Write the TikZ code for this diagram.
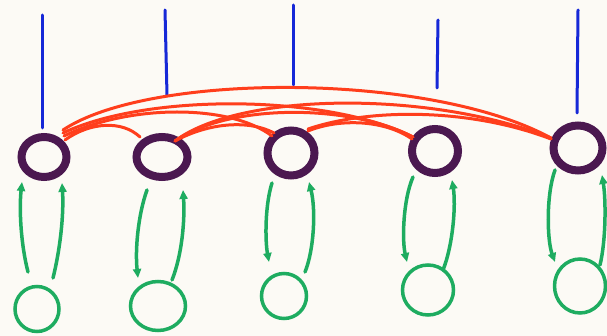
\documentclass[tikz,border=0pt]{standalone}
\usetikzlibrary{calc,arrows.meta,shapes.geometric}
\definecolor{paper}{RGB}{252,250,245}
\definecolor{ink}{RGB}{75,24,80}
\definecolor{leaf}{RGB}{30,172,96}
\definecolor{flame}{RGB}{255,62,28}
\definecolor{sky}{RGB}{22,40,215}
\begin{document}
\begin{tikzpicture}[x=1pt,y=-1pt,
  hub/.style={ellipse,draw=ink,line width=8pt,inner sep=0pt},
  leafring/.style={ellipse,draw=leaf,line width=3.5pt,inner sep=0pt},
  tie/.style={draw=flame,line width=3pt,line cap=round},
  stem/.style={draw=sky,line width=3pt,line cap=round},
  loopar/.style={draw=leaf,line width=3.5pt,line cap=round,-{Triangle[length=9pt,width=8pt]}}]
\useasboundingbox (0,0) rectangle (607,336);
\fill[paper] (0,0) rectangle (607,336);

% purple hubs
\node[hub,minimum width=45pt,minimum height=40pt] (p1) at (44,157) {};
\node[hub,minimum width=51pt,minimum height=40pt] (p2) at (162,157) {};
\node[hub,minimum width=47pt,minimum height=45pt] (p3) at (291,153) {};
\node[hub,minimum width=46pt,minimum height=44pt] (p4) at (435,151) {};
\node[hub,minimum width=49pt,minimum height=45pt] (p5) at (578,148) {};

% green rings below
\node[leafring,minimum width=44pt,minimum height=45pt] (g1) at (37,309) {};
\node[leafring,minimum width=55pt,minimum height=49pt] (g2) at (158,306) {};
\node[leafring,minimum width=45pt,minimum height=45pt] (g3) at (284,296) {};
\node[leafring,minimum width=51pt,minimum height=50pt] (g4) at (428,290) {};
\node[leafring,minimum width=51pt,minimum height=54pt] (g5) at (580,286) {};

% blue stems
\coordinate (t1) at (42,15);  \coordinate (b1) at (42,128);
\coordinate (t2) at (165,10); \coordinate (b2) at (167,95);
\coordinate (t3) at (293,5);  \coordinate (b3) at (293,85);
\coordinate (t4) at (438,20); \coordinate (b4) at (437,88);
\coordinate (t5) at (578,10); \coordinate (b5) at (577,113);
\foreach \i in {1,...,5} \draw[stem] (t\i) -- (b\i);

% red ties between hubs
\draw[tie] ($(p1)+(19,-27)$) .. controls (150,72) and (430,72) .. ($(p5)+(-27,-10)$);
\draw[tie] ($(p1)+(19,-24)$) .. controls (150,92) and (330,95) .. ($(p4)+(-22,-14)$);
\draw[tie] ($(p1)+(20,-21)$) .. controls (130,104) and (230,104) .. ($(p3)+(-19,-17)$);
\draw[tie] ($(p1)+(21,-17)$) .. controls (90,122) and (122,120) .. ($(p2)+(-22,-20)$);
\draw[tie] ($(p2)+(13,-16)$) .. controls (210,122) and (250,120) .. ($(p3)+(-17,-20)$);
\draw[tie] ($(p2)+(13,-16)$) .. controls (230,103) and (350,104) .. ($(p4)+(-22,-14)$);
\draw[tie] ($(p2)+(13,-16)$) .. controls (240,92) and (430,90) .. ($(p5)+(-27,-10)$);
\draw[tie] ($(p3)+(17,-22)$) .. controls (340,118) and (385,120) .. ($(p4)+(-23,-12)$);
\draw[tie] ($(p3)+(17,-24)$) .. controls (370,108) and (470,108) .. ($(p5)+(-27,-9)$);

% green arrows between hubs and rings
\draw[loopar] ($(g1)+(-9,-37)$) .. controls (21,245) and (19,210) .. ($(p1)+(-22,25)$);
\draw[loopar] ($(g1)+(16,-31)$) .. controls (60,250) and (64,215) .. ($(p1)+(18,26)$);
\draw[loopar] ($(p2)+(-15,33)$) .. controls (138,215) and (135,250) .. ($(g2)+(-20,-28)$);
\draw[loopar] ($(g2)+(14,-26)$) .. controls (182,255) and (185,220) .. ($(p2)+(21,33)$);
\draw[loopar] ($(p3)+(-19,30)$) .. controls (265,205) and (265,240) .. ($(g3)+(-15,-34)$);
\draw[loopar] ($(g3)+(21,-24)$) .. controls (314,250) and (316,210) .. ($(p3)+(18,29)$);
\draw[loopar] ($(p4)+(-22,26)$) .. controls (403,200) and (402,240) .. ($(g4)+(-21,-28)$);
\draw[loopar] ($(g4)+(15,-20)$) .. controls (453,245) and (456,205) .. ($(p4)+(17,29)$);
\draw[loopar] ($(p5)+(-23,22)$) .. controls (546,195) and (547,240) .. ($(g5)+(-25,-24)$);
\draw[loopar] ($(g5)+(20,-21)$) .. controls (606,240) and (606,200) .. ($(p5)+(24,27)$);
\end{tikzpicture}
\end{document}
